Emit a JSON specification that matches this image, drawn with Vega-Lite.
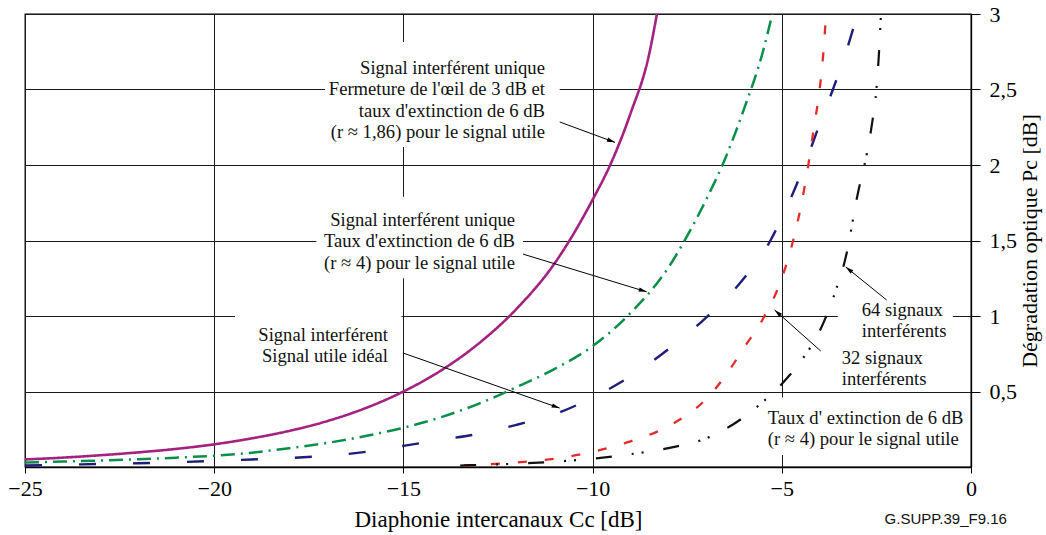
{
  "$schema": "https://vega.github.io/schema/vega-lite/v6.json",
  "width": 946,
  "height": 453,
  "autosize": {"type": "none"},
  "padding": {"left": 25, "top": 14, "right": 75, "bottom": 68},
  "background": "white",
  "config": {"view": {"stroke": "#000", "strokeWidth": 1.3}, "font": "Liberation Serif"},
  "datasets": {
    "curves": [
      {"series": "unique_oeil", "x": -25, "y": 0.05}, {"series": "unique_oeil", "x": -24, "y": 0.062}, {"series": "unique_oeil", "x": -23, "y": 0.078}, {"series": "unique_oeil", "x": -22, "y": 0.097}, {"series": "unique_oeil", "x": -21, "y": 0.12}, {"series": "unique_oeil", "x": -20, "y": 0.15}, {"series": "unique_oeil", "x": -19, "y": 0.19}, {"series": "unique_oeil", "x": -18, "y": 0.24}, {"series": "unique_oeil", "x": -17, "y": 0.305}, {"series": "unique_oeil", "x": -16, "y": 0.39}, {"series": "unique_oeil", "x": -15, "y": 0.5}, {"series": "unique_oeil", "x": -14, "y": 0.64}, {"series": "unique_oeil", "x": -13, "y": 0.82}, {"series": "unique_oeil", "x": -12, "y": 1.05}, {"series": "unique_oeil", "x": -11, "y": 1.35}, {"series": "unique_oeil", "x": -10, "y": 1.77}, {"series": "unique_oeil", "x": -9.5, "y": 2.02}, {"series": "unique_oeil", "x": -9, "y": 2.34}, {"series": "unique_oeil", "x": -8.5, "y": 2.74}, {"series": "unique_oeil", "x": -8.3, "y": 3.0},
      {"series": "unique_6dB", "x": -25, "y": 0.03}, {"series": "unique_6dB", "x": -24, "y": 0.036}, {"series": "unique_6dB", "x": -23, "y": 0.043}, {"series": "unique_6dB", "x": -22, "y": 0.052}, {"series": "unique_6dB", "x": -21, "y": 0.062}, {"series": "unique_6dB", "x": -20, "y": 0.075}, {"series": "unique_6dB", "x": -19, "y": 0.095}, {"series": "unique_6dB", "x": -18, "y": 0.125}, {"series": "unique_6dB", "x": -17, "y": 0.16}, {"series": "unique_6dB", "x": -16, "y": 0.205}, {"series": "unique_6dB", "x": -15, "y": 0.26}, {"series": "unique_6dB", "x": -14, "y": 0.33}, {"series": "unique_6dB", "x": -13, "y": 0.42}, {"series": "unique_6dB", "x": -12, "y": 0.53}, {"series": "unique_6dB", "x": -11, "y": 0.65}, {"series": "unique_6dB", "x": -10, "y": 0.8}, {"series": "unique_6dB", "x": -9, "y": 1.02}, {"series": "unique_6dB", "x": -8, "y": 1.32}, {"series": "unique_6dB", "x": -7.5, "y": 1.53}, {"series": "unique_6dB", "x": -7, "y": 1.77}, {"series": "unique_6dB", "x": -6.5, "y": 2.04}, {"series": "unique_6dB", "x": -6, "y": 2.37}, {"series": "unique_6dB", "x": -5.5, "y": 2.75}, {"series": "unique_6dB", "x": -5.25, "y": 3.0},
      {"series": "ideal", "x": -25, "y": 0.01}, {"series": "ideal", "x": -24, "y": 0.015}, {"series": "ideal", "x": -23, "y": 0.02}, {"series": "ideal", "x": -22, "y": 0.025}, {"series": "ideal", "x": -21, "y": 0.032}, {"series": "ideal", "x": -20, "y": 0.04}, {"series": "ideal", "x": -19, "y": 0.05}, {"series": "ideal", "x": -18, "y": 0.06}, {"series": "ideal", "x": -17, "y": 0.075}, {"series": "ideal", "x": -16, "y": 0.1}, {"series": "ideal", "x": -15, "y": 0.14}, {"series": "ideal", "x": -14, "y": 0.18}, {"series": "ideal", "x": -13, "y": 0.22}, {"series": "ideal", "x": -12, "y": 0.28}, {"series": "ideal", "x": -11, "y": 0.35}, {"series": "ideal", "x": -10, "y": 0.46}, {"series": "ideal", "x": -9, "y": 0.6}, {"series": "ideal", "x": -8, "y": 0.78}, {"series": "ideal", "x": -7, "y": 0.99}, {"series": "ideal", "x": -6, "y": 1.25}, {"series": "ideal", "x": -5.3, "y": 1.5}, {"series": "ideal", "x": -5, "y": 1.65}, {"series": "ideal", "x": -4.4, "y": 2.0}, {"series": "ideal", "x": -4, "y": 2.27}, {"series": "ideal", "x": -3.65, "y": 2.5}, {"series": "ideal", "x": -3.3, "y": 2.75}, {"series": "ideal", "x": -3.0, "y": 3.0},
      {"series": "s32", "x": -13.4, "y": 0.01}, {"series": "s32", "x": -13, "y": 0.015}, {"series": "s32", "x": -12, "y": 0.03}, {"series": "s32", "x": -11, "y": 0.055}, {"series": "s32", "x": -10, "y": 0.1}, {"series": "s32", "x": -9, "y": 0.17}, {"series": "s32", "x": -8, "y": 0.27}, {"series": "s32", "x": -7, "y": 0.45}, {"series": "s32", "x": -6.5, "y": 0.6}, {"series": "s32", "x": -6, "y": 0.79}, {"series": "s32", "x": -5.5, "y": 0.98}, {"series": "s32", "x": -5, "y": 1.25}, {"series": "s32", "x": -4.7, "y": 1.5}, {"series": "s32", "x": -4.5, "y": 1.72}, {"series": "s32", "x": -4.3, "y": 2.0}, {"series": "s32", "x": -4.15, "y": 2.25}, {"series": "s32", "x": -4.0, "y": 2.5}, {"series": "s32", "x": -3.9, "y": 2.75}, {"series": "s32", "x": -3.83, "y": 3.0},
      {"series": "s64", "x": -13.5, "y": 0.01}, {"series": "s64", "x": -13, "y": 0.014}, {"series": "s64", "x": -12, "y": 0.022}, {"series": "s64", "x": -11, "y": 0.035}, {"series": "s64", "x": -10, "y": 0.055}, {"series": "s64", "x": -9, "y": 0.085}, {"series": "s64", "x": -8, "y": 0.125}, {"series": "s64", "x": -7, "y": 0.19}, {"series": "s64", "x": -6.3, "y": 0.28}, {"series": "s64", "x": -5.6, "y": 0.41}, {"series": "s64", "x": -5, "y": 0.55}, {"series": "s64", "x": -4.5, "y": 0.7}, {"series": "s64", "x": -4, "y": 0.9}, {"series": "s64", "x": -3.6, "y": 1.15}, {"series": "s64", "x": -3.3, "y": 1.4}, {"series": "s64", "x": -3.0, "y": 1.8}, {"series": "s64", "x": -2.75, "y": 2.08}, {"series": "s64", "x": -2.6, "y": 2.3}, {"series": "s64", "x": -2.5, "y": 2.5}, {"series": "s64", "x": -2.43, "y": 2.75}, {"series": "s64", "x": -2.38, "y": 3.0}
    ],
    "boxes": [
      {"x": -17.07, "x2": -10.87, "y": 2.12, "y2": 2.815},
      {"x": -17.3, "x2": -11.84, "y": 1.25, "y2": 1.79},
      {"x": -19.45, "x2": -15.05, "y": 0.63, "y2": 1.03},
      {"x": -3.52, "x2": -0.48, "y": 0.83, "y2": 1.12},
      {"x": -5.18, "x2": -0.15, "y": 0.08, "y2": 0.46}
    ],
    "arrows": [
      {"x": -10.87, "y": 2.285, "x2": -9.41, "y2": 2.15},
      {"x": -11.84, "y": 1.41, "x2": -8.57, "y2": 1.16},
      {"x": -15.01, "y": 0.755, "x2": -10.87, "y2": 0.39},
      {"x": -2.23, "y": 1.106, "x2": -3.31, "y2": 1.325},
      {"x": -3.97, "y": 0.768, "x2": -5.19, "y2": 1.04}
    ],
    "labels": [
      {"x": -11.26, "y": 2.642, "side": "right", "text": "Signal interférent unique\nFermeture de l'œil de 3 dB et\ntaux d'extinction de 6 dB\n(r ≈ 1,86) pour le signal utile"},
      {"x": -12.05, "y": 1.636, "side": "right", "text": "Signal interférent unique\nTaux d'extinction de 6 dB\n(r ≈ 4) pour le signal utile"},
      {"x": -15.41, "y": 0.874, "side": "right", "text": "Signal interférent\nSignal utile idéal"},
      {"x": -2.886, "y": 1.04, "side": "left", "text": "64 signaux\ninterférents"},
      {"x": -3.415, "y": 0.722, "side": "left", "text": "32 signaux\ninterférents"},
      {"x": -5.37, "y": 0.325, "side": "left", "text": "Taux d' extinction de  6 dB\n(r ≈ 4) pour le  signal utile"}
    ],
    "credit": [
      {"x": -0.667, "y": -0.377, "text": "G.SUPP.39_F9.16"}
    ]
  },
  "layer": [
    {
      "data": {"name": "boxes"},
      "mark": {"type": "rect", "fill": "white", "stroke": null},
      "encoding": {
        "x": {"field": "x", "type": "quantitative", "scale": {"domain": [-25, 0], "nice": false, "zero": false}},
        "x2": {"field": "x2"},
        "y": {"field": "y", "type": "quantitative", "scale": {"domain": [0, 3], "nice": false}},
        "y2": {"field": "y2"}
      }
    },
    {
      "data": {"name": "curves"},
      "mark": {"type": "line", "interpolate": "monotone", "strokeCap": "butt"},
      "encoding": {
        "x": {
          "field": "x", "type": "quantitative",
          "scale": {"domain": [-25, 0], "nice": false, "zero": false},
          "axis": {
            "values": [-25, -20, -15, -10, -5, 0],
            "title": "Diaphonie intercanaux Cc [dB]",
            "zindex": 0,
            "grid": true, "gridColor": "#1a1a1a", "gridWidth": 1, "gridOpacity": 1,
            "domain": true, "domainColor": "#000", "domainWidth": 1.3,
            "ticks": true, "tickSize": 6, "tickColor": "#000", "tickWidth": 1,
            "labelFont": "Liberation Serif", "labelFontSize": 22, "labelColor": "#000", "labelPadding": 5, "labelFlush": false,
            "titleFont": "Liberation Serif", "titleFontSize": 23, "titleFontWeight": "normal", "titleColor": "#000", "titlePadding": 9
          }
        },
        "y": {
          "field": "y", "type": "quantitative",
          "scale": {"domain": [0, 3], "nice": false},
          "axis": {
            "orient": "right",
            "values": [0.5, 1, 1.5, 2, 2.5, 3],
            "labelExpr": "replace(format(datum.value, '~g'), '.', ',')",
            "title": "Dégradation optique Pc [dB]",
            "titleAngle": 270,
            "titleBaseline": "top",
            "zindex": 0,
            "grid": true, "gridColor": "#1a1a1a", "gridWidth": 1, "gridOpacity": 1,
            "domain": true, "domainColor": "#000", "domainWidth": 1.3,
            "ticks": true, "tickSize": 9, "tickColor": "#000", "tickWidth": 1,
            "labelFont": "Liberation Serif", "labelFontSize": 22, "labelColor": "#000", "labelPadding": 9, "labelAlign": "left", "labelBaseline": "middle", "labelFlush": false,
            "titleFont": "Liberation Serif", "titleFontSize": 22, "titleFontWeight": "normal", "titleColor": "#000", "titlePadding": 3
          }
        },
        "color": {"field": "series", "type": "nominal", "scale": {"domain": ["unique_oeil", "unique_6dB", "ideal", "s32", "s64"], "range": ["#A3227F", "#0A8F4A", "#1E1E78", "#E52A2A", "#111111"]}, "legend": null},
        "strokeDash": {"field": "series", "type": "nominal", "scale": {"domain": ["unique_oeil", "unique_6dB", "ideal", "s32", "s64"], "range": [[1, 0], [14, 6, 2, 6], [17, 37], [9, 18], [16, 20, 2, 8, 2, 20]]}, "legend": null},
        "strokeWidth": {"field": "series", "type": "ordinal", "scale": {"domain": ["unique_oeil", "unique_6dB", "ideal", "s32", "s64"], "range": [2.6, 2.2, 2.2, 2, 2.2]}, "legend": null}
      }
    },
    {
      "data": {"name": "arrows"},
      "mark": {"type": "rule", "color": "#000", "strokeWidth": 1},
      "encoding": {
        "x": {"field": "x", "type": "quantitative", "scale": {"domain": [-25, 0], "nice": false, "zero": false}},
        "y": {"field": "y", "type": "quantitative", "scale": {"domain": [0, 3], "nice": false}},
        "x2": {"field": "x2"},
        "y2": {"field": "y2"}
      }
    },
    {
      "data": {"name": "arrows"},
      "transform": [{"calculate": "atan2((datum.x2 - datum.x) * 37.85, (datum.y2 - datum.y) * 151) * 180 / PI", "as": "ang"}],
      "mark": {"type": "point", "shape": "M0,0L-0.55,2L0.55,2Z", "filled": true, "color": "#000", "opacity": 1, "size": 64},
      "encoding": {
        "x": {"field": "x2", "type": "quantitative", "scale": {"domain": [-25, 0], "nice": false, "zero": false}},
        "y": {"field": "y2", "type": "quantitative", "scale": {"domain": [0, 3], "nice": false}},
        "angle": {"field": "ang", "type": "quantitative", "scale": null}
      }
    },
    {
      "data": {"name": "labels"},
      "transform": [{"filter": "datum.side === 'right'"}],
      "mark": {"type": "text", "align": "right", "baseline": "middle", "lineBreak": "\n", "lineHeight": 21.3, "font": "Liberation Serif", "fontSize": 18.6, "color": "#111"},
      "encoding": {
        "x": {"field": "x", "type": "quantitative", "scale": {"domain": [-25, 0], "nice": false, "zero": false}},
        "y": {"field": "y", "type": "quantitative", "scale": {"domain": [0, 3], "nice": false}},
        "text": {"field": "text"}
      }
    },
    {
      "data": {"name": "labels"},
      "transform": [{"filter": "datum.side === 'left'"}],
      "mark": {"type": "text", "align": "left", "baseline": "middle", "lineBreak": "\n", "lineHeight": 21.3, "font": "Liberation Serif", "fontSize": 18.6, "color": "#111"},
      "encoding": {
        "x": {"field": "x", "type": "quantitative", "scale": {"domain": [-25, 0], "nice": false, "zero": false}},
        "y": {"field": "y", "type": "quantitative", "scale": {"domain": [0, 3], "nice": false}},
        "text": {"field": "text"}
      }
    },
    {
      "data": {"name": "credit"},
      "mark": {"type": "text", "align": "center", "baseline": "alphabetic", "font": "Liberation Sans", "fontSize": 15, "color": "#111"},
      "encoding": {
        "x": {"field": "x", "type": "quantitative", "scale": {"domain": [-25, 0], "nice": false, "zero": false}},
        "y": {"field": "y", "type": "quantitative", "scale": {"domain": [0, 3], "nice": false}},
        "text": {"field": "text"}
      }
    }
  ]
}
